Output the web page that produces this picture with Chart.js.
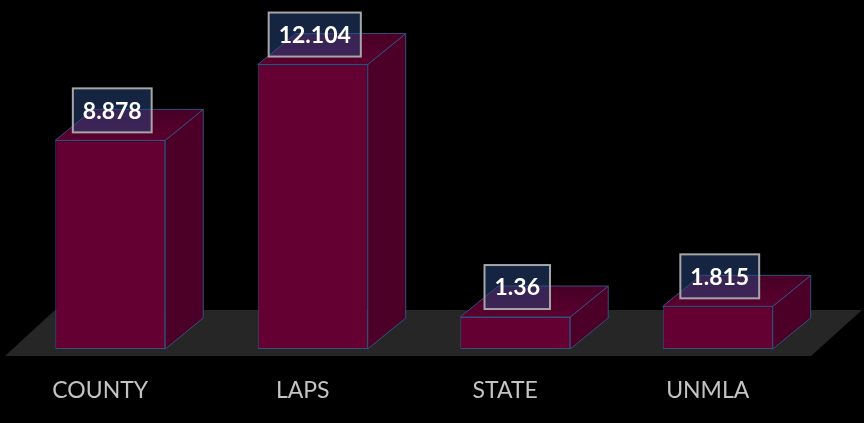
<!DOCTYPE html>
<html>
<head>
  <title>3D Bars</title>
  <script src="https://cdn.jsdelivr.net/npm/chart.js"></script>
  <style>
    html, body { margin: 0; padding: 0; background: #000; }
    #wrap { width: 864px; height: 423px; }
  </style>
</head>
<body>
  <div id="wrap"><canvas id="chart"></canvas></div>
  <script>
    const categories = ['COUNTY', 'LAPS', 'STATE', 'UNMLA'];
    const values = [8.878, 12.104, 1.36, 1.815];

    const frontColor = '#650033';
    const sideColor = '#4c0027';
    const edgeColor = '#34507e';
    const depthX = 38, depthY = -31;

    // gray floor under the bars, then side + top faces after Chart.js draws the fronts
    const threeD = {
      id: 'threeD',
      beforeDatasetsDraw(chart) {
        const ctx = chart.ctx;
        const a = chart.chartArea;
        const base = chart.scales.y.getPixelForValue(0);
        ctx.save();
        ctx.fillStyle = '#262626';
        ctx.beginPath();
        ctx.moveTo(a.left - 4, base + 7);
        ctx.lineTo(a.right - 8, base + 7);
        ctx.lineTo(a.right + 43, base - 39);
        ctx.lineTo(a.left + 46, base - 39);
        ctx.closePath();
        ctx.fill();
        ctx.restore();
      },
      afterDatasetsDraw(chart) {
        const ctx = chart.ctx;
        const meta = chart.getDatasetMeta(0);
        ctx.save();
        ctx.lineWidth = 1;
        ctx.strokeStyle = edgeColor;
        meta.data.forEach((bar) => {
          const l = bar.x - bar.width / 2, r = bar.x + bar.width / 2;
          const t = bar.y, b = bar.base;
          // side
          ctx.fillStyle = sideColor;
          ctx.beginPath();
          ctx.moveTo(r, b);
          ctx.lineTo(r + depthX, b + depthY);
          ctx.lineTo(r + depthX, t + depthY);
          ctx.lineTo(r, t);
          ctx.closePath();
          ctx.fill();
          ctx.stroke();
          // top
          const g = ctx.createLinearGradient(0, t, 0, t + depthY);
          g.addColorStop(0, '#5a002f');
          g.addColorStop(1, '#470025');
          ctx.fillStyle = g;
          ctx.beginPath();
          ctx.moveTo(l, t);
          ctx.lineTo(l + depthX, t + depthY);
          ctx.lineTo(r + depthX, t + depthY);
          ctx.lineTo(r, t);
          ctx.closePath();
          ctx.fill();
          ctx.stroke();
        });

        // value boxes
        ctx.font = 'bold 23px Lato';
        ctx.textAlign = 'center';
        ctx.textBaseline = 'middle';
        meta.data.forEach((bar, i) => {
          const txt = String(values[i]);
          const w = ctx.measureText(txt).width + 20;
          const h = 44;
          const cx = bar.x + 2;
          const by = bar.y - 8;
          ctx.fillStyle = 'rgba(40, 72, 130, 0.5)';
          ctx.fillRect(cx - w / 2, by - h, w, h);
          ctx.strokeStyle = '#a6a6a6';
          ctx.lineWidth = 2;
          ctx.strokeRect(cx - w / 2, by - h, w, h);
          ctx.fillStyle = '#ffffff';
          ctx.fillText(txt, cx, by - h / 2 + 1);
        });
        ctx.restore();
      }
    };

    new Chart(document.getElementById('chart'), {
      type: 'bar',
      data: {
        labels: categories,
        datasets: [{
          data: values,
          backgroundColor: frontColor,
          borderColor: edgeColor,
          borderWidth: 1,
          borderSkipped: false,
          categoryPercentage: 1,
          barPercentage: 0.543
        }]
      },
      options: {
        responsive: true,
        maintainAspectRatio: false,
        animation: false,
        layout: { padding: { left: 9, right: 45, top: 20, bottom: 0 } },
        plugins: { legend: { display: false }, tooltip: { enabled: false } },
        scales: {
          x: {
            grid: { display: false, drawTicks: false },
            border: { display: false },
            ticks: { color: '#c4c4c4', font: { family: 'Lato', size: 23 }, padding: 28, labelOffset: -10 },
            afterFit(scale) { scale.height = 74; }
          },
          y: { display: false, min: 0, max: 14 }
        }
      },
      plugins: [threeD]
    });
  </script>
</body>
</html>
